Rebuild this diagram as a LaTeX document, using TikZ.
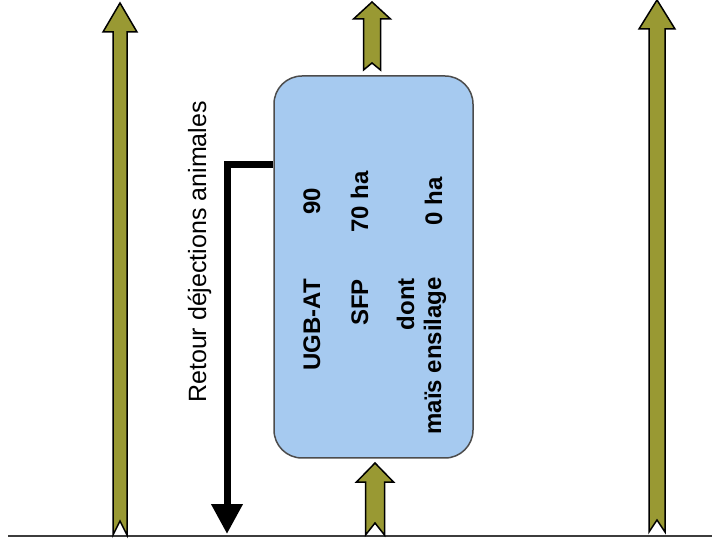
\documentclass[tikz,border=0pt]{standalone}
\usepackage{fontspec}
\setmainfont{Liberation Sans}
\usepackage{tikz}
\usetikzlibrary{arrows.meta, positioning}
\usepackage{xcolor}
\definecolor{fluxolive}{RGB}{153,153,51}
\definecolor{exploitblue}{RGB}{166,202,240}
\definecolor{solgray}{RGB}{60,60,60}

% #1 axe x, #2 y bas, #3 encoche, #4 y base tete, #5 y pointe, #6 demi tige, #7 demi tete
\newcommand{\flechebloc}[7]{%
  \draw[flux] ({#1-#6},#2) -- (#1,{#2+#3}) -- ({#1+#6},#2) -- ({#1+#6},#4)
    -- ({#1+#7},#4) -- (#1,#5) -- ({#1-#7},#4) -- ({#1-#6},#4) -- cycle;}

\begin{document}
\begin{tikzpicture}[
    x=1pt, y=1pt,
    flux/.style={draw=black, line width=1.5pt, fill=fluxolive, line join=miter},
    exploit/.style={rectangle, rounded corners=28pt, draw=gray!60!black, line width=1.5pt,
                    fill=exploitblue, minimum width=199pt, minimum height=382pt, inner sep=0pt},
    chiffre/.style={rotate=90, font=\bfseries\fontsize{24}{29}\selectfont, inner sep=0pt},
    retour/.style={-{Triangle[width=30pt, length=30pt]}, line width=7pt},
    sol/.style={draw=solgray, line width=2pt},
]
    \useasboundingbox (0,0) rectangle (712,549);

    \draw[sol] (8,13) -- (712,13);

    % Exploitation
    \node[exploit] (exploit) at (373.5,282) {};
    \node[chiffre, anchor=base east] (ugb) at (320,270) {UGB-AT};
    \node[chiffre, anchor=base] (ugbval) at (320,348) {90};
    \node[chiffre, anchor=base east] (sfp) at (368,270) {SFP};
    \node[chiffre, anchor=base] (sfpval) at (368,347) {70 ha};
    \node[chiffre, anchor=base east] (dont) at (414,271) {dont};
    \node[chiffre, anchor=base east] (mais) at (441,272) {maïs ensilage};
    \node[chiffre, anchor=base] (maisval) at (442,348) {0 ha};

    % Flux
    \flechebloc{120}{14}{14}{517}{546}{7}{17}
    \flechebloc{372}{479}{7}{530}{547}{8.5}{18.5}
    \flechebloc{375}{14}{12}{67}{86}{9.5}{18.5}
    \flechebloc{657}{17}{12}{520}{549}{8}{18}

    % Retour au sol
    \coordinate (fumier) at (227,15);
    \draw[retour] (exploit.west |- 0,384) -| (fumier);
    \node[rotate=90, anchor=base west, font=\fontsize{25}{30}\selectfont, inner sep=0pt]
        (retourlabel) at (206,146) {Retour déjections animales};
\end{tikzpicture}
\end{document}
